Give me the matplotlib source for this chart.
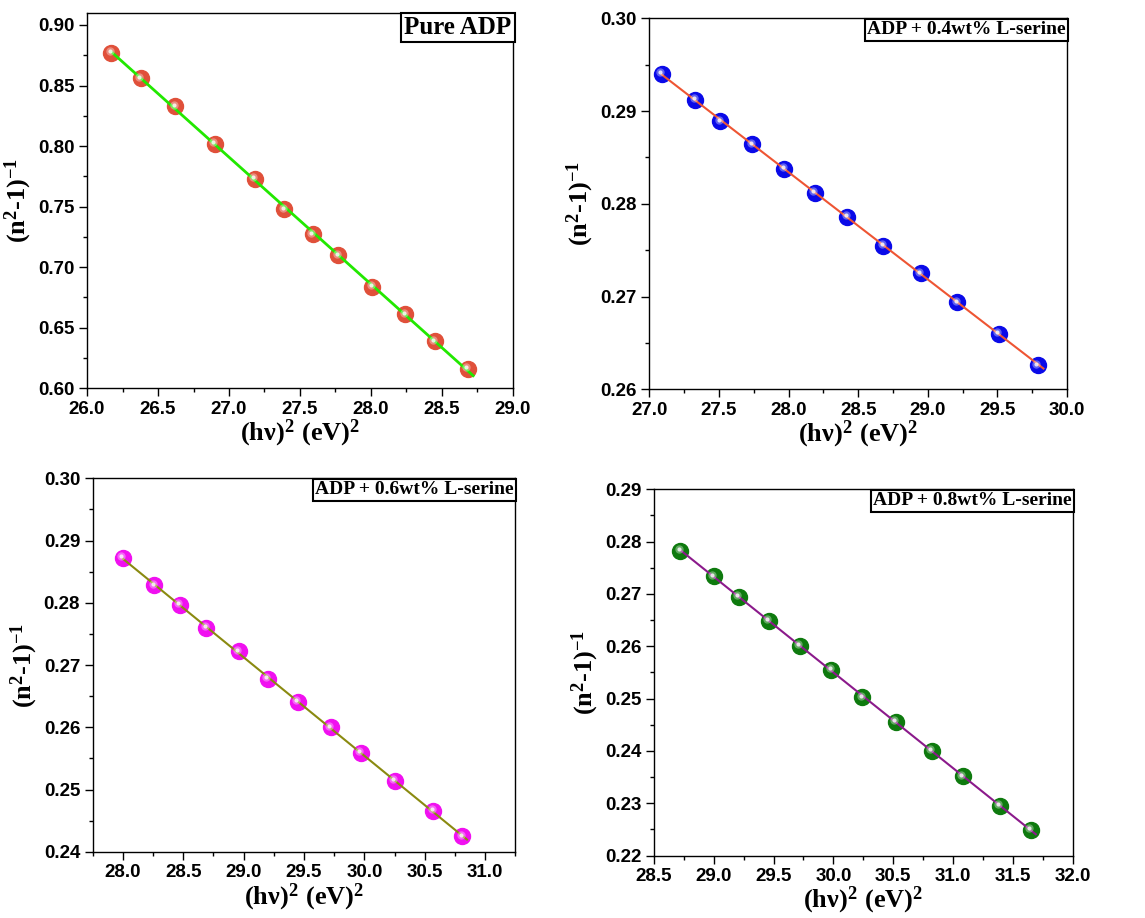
import numpy as np
import matplotlib
matplotlib.use('Agg')
import matplotlib.pyplot as plt
from matplotlib.ticker import MultipleLocator, FormatStrFormatter
from matplotlib.transforms import offset_copy

plt.rcParams['mathtext.fontset'] = 'custom'
plt.rcParams['mathtext.rm'] = 'Liberation Serif:bold'
plt.rcParams['mathtext.bf'] = 'Liberation Serif:bold'
plt.rcParams['mathtext.it'] = 'Liberation Serif:bold'

# pure ADP
x_pure = [26.17, 26.38, 26.62, 26.90, 27.18, 27.39, 27.59, 27.77, 28.01, 28.24, 28.45, 28.68]
y_pure = [0.877, 0.856, 0.833, 0.802, 0.773, 0.748, 0.727, 0.710, 0.684, 0.661, 0.639, 0.616]
# ADP + 0.4wt% L-serine
x_04 = [27.09, 27.33, 27.51, 27.74, 27.97, 28.19, 28.42, 28.68, 28.95, 29.21, 29.51, 29.79]
y_04 = [0.2940, 0.2912, 0.2889, 0.2864, 0.2838, 0.2812, 0.2786, 0.2755, 0.2725, 0.2694, 0.2660, 0.2626]
# ADP + 0.6wt% L-serine
x_06 = [28.00, 28.26, 28.47, 28.69, 28.96, 29.20, 29.45, 29.72, 29.97, 30.25, 30.57, 30.81]
y_06 = [0.2872, 0.2828, 0.2797, 0.2760, 0.2722, 0.2678, 0.2641, 0.2600, 0.2559, 0.2514, 0.2466, 0.2425]
# ADP + 0.8wt% L-serine
x_08 = [28.72, 29.00, 29.21, 29.46, 29.72, 29.98, 30.24, 30.52, 30.82, 31.08, 31.39, 31.65]
y_08 = [0.2783, 0.2734, 0.2695, 0.2649, 0.2601, 0.2555, 0.2503, 0.2456, 0.2400, 0.2352, 0.2295, 0.2249]

labels = ['Pure ADP', 'ADP + 0.4wt% L-serine', 'ADP + 0.6wt% L-serine', 'ADP + 0.8wt% L-serine']

panels = [
    # x, y, marker colour, line colour, xlim, ylim, ymajor, axes rect, label size
    (x_pure, y_pure, '#e0503a', '#22e800', (26.0, 29.0), (0.60, 0.91), 0.05, [0.076, 0.577, 0.372, 0.409], 18),
    (x_04, y_04, '#0a0ae8', '#ee5533', (27.0, 30.0), (0.26, 0.30), 0.01, [0.567, 0.576, 0.365, 0.404], 14),
    (x_06, y_06, '#f010f0', '#8a8a10', (27.75, 31.25), (0.24, 0.30), 0.01, [0.081, 0.072, 0.369, 0.407], 14),
    (x_08, y_08, '#0e7a0e', '#8b1a8b', (28.5, 32.0), (0.22, 0.29), 0.01, [0.571, 0.068, 0.366, 0.399], 14),
]

fig = plt.figure(figsize=(11.45, 9.18), dpi=100)

for k, (xs, ys, mc, lc, xl, yl, ymaj, rect, lsize) in enumerate(panels):
    ax = fig.add_axes(rect)
    xs = np.array(xs)
    ys = np.array(ys)
    # linear fit
    p = np.polyfit(xs, ys, 1)
    xf = np.array([xs[0], xs[-1] + 0.04])
    ax.plot(xf, np.polyval(p, xf), color=lc, lw=2 if k == 0 else 1.5, zorder=3)
    ax.plot(xs, ys, 'o', ms=11.5, mfc=mc, mec=mc, zorder=2)
    # soft highlight on the balls
    hl = offset_copy(ax.transData, fig=fig, x=-1.5, y=1.5, units='dots')
    ax.plot(xs, ys, 'o', ms=6, mfc='white', mec='none', alpha=0.35, transform=hl, zorder=4)
    ax.plot(xs, ys, 'o', ms=3, mfc='white', mec='none', alpha=0.8, transform=hl, zorder=4)

    ax.set_xlim(*xl)
    ax.set_ylim(*yl)
    ax.xaxis.set_major_locator(MultipleLocator(0.5))
    ax.xaxis.set_minor_locator(MultipleLocator(0.25))
    ax.yaxis.set_major_locator(MultipleLocator(ymaj))
    ax.yaxis.set_minor_locator(MultipleLocator(ymaj / 2))
    ax.xaxis.set_major_formatter(FormatStrFormatter('%.1f'))
    ax.yaxis.set_major_formatter(FormatStrFormatter('%.2f'))
    ax.tick_params(which='major', direction='out', length=6, width=1, pad=3)
    ax.tick_params(which='minor', direction='out', length=3, width=1)
    for t in ax.get_xticklabels() + ax.get_yticklabels():
        t.set_fontfamily('Liberation Sans')
        t.set_fontweight('bold')
        t.set_fontsize(13.5)
    for s in ax.spines.values():
        s.set_linewidth(1)

    ax.set_xlabel(r'$\mathbf{(h\nu)^{2}\ (eV)^{2}}$', fontsize=19, labelpad=0)
    ax.set_ylabel(r'$\mathbf{(n^{2}\text{-}1)^{-1}}$', fontsize=19, labelpad=3)

    ax.text(0.997, 0.992, labels[k], transform=ax.transAxes, ha='right', va='top',
            fontsize=lsize, fontfamily='Liberation Serif', fontweight='bold',
            bbox=dict(boxstyle='square,pad=0.12', fc='white', ec='black', lw=1.5))

fig.savefig('out.png', dpi=100)
